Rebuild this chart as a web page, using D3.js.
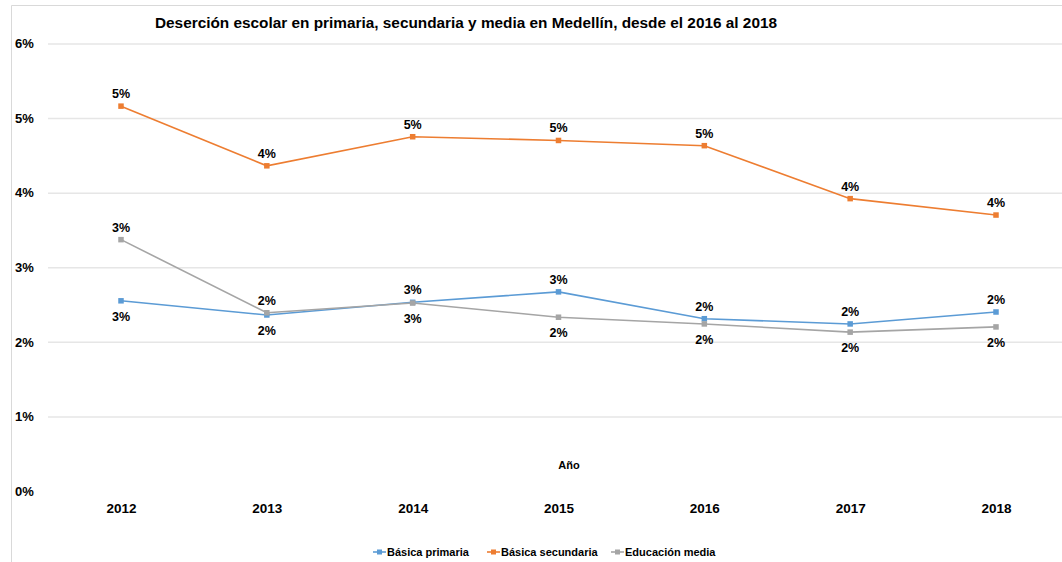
<!DOCTYPE html>
<html><head><meta charset="utf-8">
<script src="https://cdn.jsdelivr.net/npm/d3@7"></script>
<style>body{margin:0;background:#fff}svg{display:block}text{font-family:"Liberation Sans",Arial,sans-serif;font-weight:bold;fill:#000}</style>
</head><body><svg id="c" width="1062" height="562"></svg>
<script>
const years = ["2012","2013","2014","2015","2016","2017","2018"];
const primaria   = [2.55, 2.36, 2.53, 2.67, 2.31, 2.24, 2.40];
const secundaria = [5.16, 4.36, 4.75, 4.70, 4.63, 3.92, 3.70];
const media      = [3.37, 2.39, 2.52, 2.33, 2.24, 2.13, 2.20];
const yTicks = [0,1,2,3,4,5,6];
const seriesNames = ["Básica primaria","Básica secundaria","Educación media"];
const title = "Deserción escolar en primaria, secundaria y media en Medellín, desde el 2016 al 2018";
const xTitle = "Año";
// label placement per point: 1 = above, -1 = below
const primariaPos = [-1,-1,1,1,1,1,1];
const secundariaPos = [1,1,1,1,1,1,1];
const mediaPos = [1,1,-1,-1,-1,-1,-1];

const colors = ["#5b9bd5","#ed7d31","#a5a5a5"];
const series = [
  {name: seriesNames[0], values: primaria, pos: primariaPos, color: colors[0]},
  {name: seriesNames[1], values: secundaria, pos: secundariaPos, color: colors[1]},
  {name: seriesNames[2], values: media, pos: mediaPos, color: colors[2]}
];

const svg = d3.select("#c");
const x = d3.scalePoint().domain(years).range([121, 996]);
const y = d3.scaleLinear().domain([0, 6]).range([491, 43.5]);

// chart border
svg.append("line").attr("x1",11.5).attr("x2",1062).attr("y1",5.5).attr("y2",5.5).attr("stroke","#d9d9d9");
svg.append("line").attr("x1",11.5).attr("x2",11.5).attr("y1",5.5).attr("y2",562).attr("stroke","#d9d9d9");

// title
svg.append("text").attr("x",466).attr("y",28).attr("text-anchor","middle")
  .attr("font-size",14).attr("textLength",622).attr("lengthAdjust","spacingAndGlyphs").text(title);

// gridlines
const yAxis = d3.axisLeft(y).tickValues(yTicks).tickSize(-(1062-48)).tickFormat(d => d + "%");
const gy = svg.append("g").attr("transform","translate(48,0)").call(yAxis);
gy.select(".domain").remove();
gy.selectAll(".tick line").attr("stroke","#e6e6e6").attr("stroke-width",1.5)
  .attr("display", d => d === 0 ? "none" : null);
gy.selectAll(".tick text").attr("x",-33).attr("text-anchor","start").attr("font-size",13)
  .attr("font-family","Liberation Sans, Arial, sans-serif").attr("font-weight","bold").attr("fill","#000");

// x axis labels
const xAxis = d3.axisBottom(x).tickSize(0);
const gx = svg.append("g").attr("transform","translate(0,500)").call(xAxis);
gx.select(".domain").remove();
gx.selectAll(".tick text").attr("font-size",13.5).attr("dy","0.71em")
  .attr("font-family","Liberation Sans, Arial, sans-serif").attr("font-weight","bold").attr("fill","#000");

svg.append("text").attr("x",569).attr("y",469).attr("text-anchor","middle").attr("font-size",11).text(xTitle);

// lines
const line = d3.line().x((d,i) => x(years[i])).y(d => y(d));
series.forEach(s => {
  const g = svg.append("g");
  g.append("path").datum(s.values).attr("d", line).attr("fill","none")
    .attr("stroke", s.color).attr("stroke-width",1.6);
  g.selectAll("rect").data(s.values).join("rect")
    .attr("x",(d,i)=>x(years[i])-2.75).attr("y",d=>y(d)-2.75)
    .attr("width",5.5).attr("height",5.5).attr("fill",s.color);
  g.selectAll("text").data(s.values).join("text")
    .attr("x",(d,i)=>x(years[i])).attr("y",(d,i)=> s.pos[i] > 0 ? y(d)-8 : y(d)+20)
    .attr("text-anchor","middle").attr("font-size",12.5)
    .text(d => d3.format(".0f")(d) + "%");
});

// legend
const legX = [373, 487, 611];
series.forEach((s,i) => {
  const g = svg.append("g").attr("transform",`translate(${legX[i]},552)`);
  g.append("line").attr("x1",0).attr("x2",13).attr("y1",0).attr("y2",0).attr("stroke",s.color).attr("stroke-width",1.6);
  g.append("rect").attr("x",4).attr("y",-2.5).attr("width",5).attr("height",5).attr("fill",s.color);
  g.append("text").attr("x",14).attr("y",4).attr("font-size",11).text(s.name);
});
</script></body></html>
